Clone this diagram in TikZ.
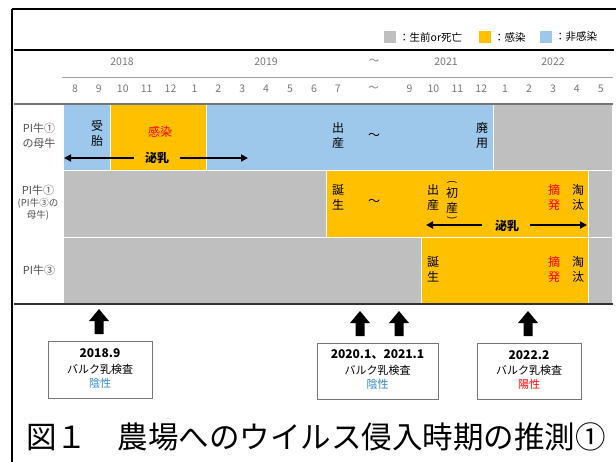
\documentclass[tikz,border=0pt]{standalone}
\usepackage{fontspec}
\setmainfont{Noto Sans CJK JP}
\usetikzlibrary{arrows.meta}
\definecolor{cblue}{HTML}{9DC8EC}
\definecolor{corange}{HTML}{FFC000}
\definecolor{cgray}{HTML}{BFBFBF}
\definecolor{cred}{HTML}{FF0000}
\definecolor{tblue}{HTML}{2E86CF}
\definecolor{lgray}{HTML}{767676}
\definecolor{lbl}{HTML}{505050}
\tikzset{
  cell/.style={draw=white, line width=0.8pt},
  celltxt/.style={font=\fontsize{12}{15}\selectfont, align=center, inner sep=0pt},
  monthtxt/.style={font=\fontsize{10.5}{12}\selectfont, text=lgray, inner sep=0pt},
  rowlbl/.style={font=\fontsize{11}{15}\selectfont, text=lbl, align=center, inner sep=0pt},
  milk/.style={line width=1.8pt, -{Triangle[length=7pt,width=7pt]}},
  infobox/.style={draw=lgray, line width=0.6pt, fill=white},
  legtxt/.style={font=\fontsize{10.5}{12}\selectfont, anchor=west, inner sep=0pt},
  uparrow/.pic={\fill[black] (-4.5,0) -- (-4.5,-13) -- (-10,-13) -- (0,-25) -- (10,-13) -- (4.5,-13) -- (4.5,0) -- cycle;}
}
\begin{document}
\begin{tikzpicture}[x=1pt,y=-1pt]
\useasboundingbox (0,0) rectangle (616,461);
% frame
\draw[line width=1.5pt] (12,9) -- (617,9);
\draw[line width=1.5pt] (12,9) -- (12,462);
% legend
\fill[cgray] (384,31) rectangle (396,43);
\node[legtxt] (lg1) at (399,37) {：生前or死亡};
\fill[corange] (479,31) rectangle (491,43);
\node[legtxt] (lg2) at (494,37) {：感染};
\fill[cblue] (540,31) rectangle (552,43);
\node[legtxt] (lg3) at (555,37) {：非感染};
% header lines
\draw[line width=2pt] (14,50) -- (614,50);
\draw[lgray!70, line width=0.8pt] (62,77) -- (613,77);
% years
\node[monthtxt] (y18) at (122,62) {2018};
\node[monthtxt] (y19) at (266,62) {2019};
\node[monthtxt] (ytl) at (374,62) {～};
\node[monthtxt] (y21) at (446,62) {2021};
\node[monthtxt] (y22) at (553,62) {2022};
% months
\foreach \m [count=\i from 0] in {8,9,10,11,12,1,2,3,4,5,6,7}
  \node[monthtxt] (ma\i) at ({63+23.9*(\i+0.5)},89) {\m};
\node[monthtxt] (mtl) at (373.7,89) {～};
\foreach \m [count=\i from 14] in {9,10,11,12,1,2,3,4,5}
  \node[monthtxt] (mb\i) at ({63+23.9*(\i+0.5)},89) {\m};
% cells row 1
\filldraw[cell, fill=cblue] (63,104) rectangle (110.8,170);
\filldraw[cell, fill=corange] (110.8,104) rectangle (206.4,170);
\filldraw[cell, fill=cblue] (206.4,104) rectangle (493.2,170);
\filldraw[cell, fill=cgray] (493.2,104) rectangle (612.7,170);
% row 2
\filldraw[cell, fill=cgray] (63,170) rectangle (325.9,237);
\filldraw[cell, fill=corange] (325.9,170) rectangle (588.8,237);
\filldraw[cell, fill=cgray] (588.8,170) rectangle (612.7,237);
% row 3
\filldraw[cell, fill=cgray] (63,237) rectangle (421.5,303);
\filldraw[cell, fill=corange] (421.5,237) rectangle (588.8,303);
\filldraw[cell, fill=cgray] (588.8,237) rectangle (612.7,303);
% horizontal lines
\draw[lgray, line width=1.2pt] (14,104) -- (613,104);
\draw[black!80, line width=2pt] (14,303.5) -- (613,303.5);
% row labels
\node[rowlbl] (r1) at (39,136) {PI牛①\\の母牛};
\node[rowlbl, font=\fontsize{9.5}{12}\selectfont] (r2) at (38,203) {{\fontsize{11}{13}\selectfont PI牛①}\\(PI牛③の\\母牛)};
\node[rowlbl] (r3) at (39,270) {PI牛③};
% row 1 texts
\node[celltxt] (t1) at (97,133) {受\\胎};
\node[celltxt, text=cred] (t2) at (160,132) {感染};
\node[celltxt, font=\bfseries\fontsize{12}{15}\selectfont] (milk1) at (157,158) {泌乳};
\coordinate (m1l) at (64,158);
\coordinate (m1r) at (248,158);
\draw[milk] (milk1.west) ++(-11,0) -- (m1l);
\draw[milk] (milk1.east) ++(11,0) -- (m1r);
\node[celltxt] (t3) at (338,135) {出\\産};
\node[celltxt] (t4) at (374,136) {～};
\node[celltxt] (t5) at (482,135) {廃\\用};
% row 2 texts
\node[celltxt] (t6) at (338,197) {誕\\生};
\node[celltxt] (t7) at (374,202) {～};
\node[celltxt] (t8) at (433,197) {出\\産};
\node[celltxt] (t9) at (452,200) {初\\産};
\node[inner sep=0pt, rotate=-90, font=\fontsize{10}{10}\selectfont] (p1) at (452,182) {(};
\node[inner sep=0pt, rotate=-90, font=\fontsize{10}{10}\selectfont] (p2) at (452,218) {)};
\node[celltxt, text=cred] (t10) at (554,197) {摘\\発};
\node[celltxt] (t11) at (578,197) {淘\\汰};
\node[celltxt, font=\bfseries\fontsize{12}{15}\selectfont] (milk2) at (507,226) {泌乳};
\coordinate (m2l) at (426,225);
\coordinate (m2r) at (587,225);
\draw[milk] (milk2.west) ++(-13,-1) -- (m2l);
\draw[milk] (milk2.east) ++(11,-1) -- (m2r);
% row 3 texts
\node[celltxt] (t12) at (433,269) {誕\\生};
\node[celltxt, text=cred] (t13) at (554,269) {摘\\発};
\node[celltxt] (t14) at (578,269) {淘\\汰};
% up arrows
\pic at (99,334) {uparrow};
\pic at (360,336) {uparrow};
\pic at (399,336) {uparrow};
\pic at (528,336) {uparrow};
% info boxes
\node[infobox, minimum width=104pt, minimum height=57pt, inner sep=0pt] (b1) at (100,370) {};
\node[infobox, minimum width=121pt, minimum height=56pt, inner sep=0pt] (b2) at (377.5,371) {};
\node[infobox, minimum width=104pt, minimum height=56pt, inner sep=0pt] (b3) at (529,371) {};
\foreach \b/\d/\c/\r in {b1/2018.9/tblue/陰性, b2/{2020.1、2021.1}/tblue/陰性, b3/2022.2/cred/陽性}{
  \node[font=\bfseries\fontsize{12}{14}\selectfont, inner sep=0pt] at ([yshift=-12pt]\b.north) {\d};
  \node[font=\fontsize{11}{13}\selectfont, inner sep=0pt] at ([yshift=-28pt]\b.north) {バルク乳検査};
  \node[font=\fontsize{11}{13}\selectfont, inner sep=0pt, text=\c] at ([yshift=-42pt]\b.north) {\r};
}
% title
\node[anchor=west, inner sep=0pt, font=\fontsize{30.5}{33}\selectfont] (title) at (26,437) {図１　農場へのウイルス侵入時期の推測①};
\end{tikzpicture}
\end{document}
